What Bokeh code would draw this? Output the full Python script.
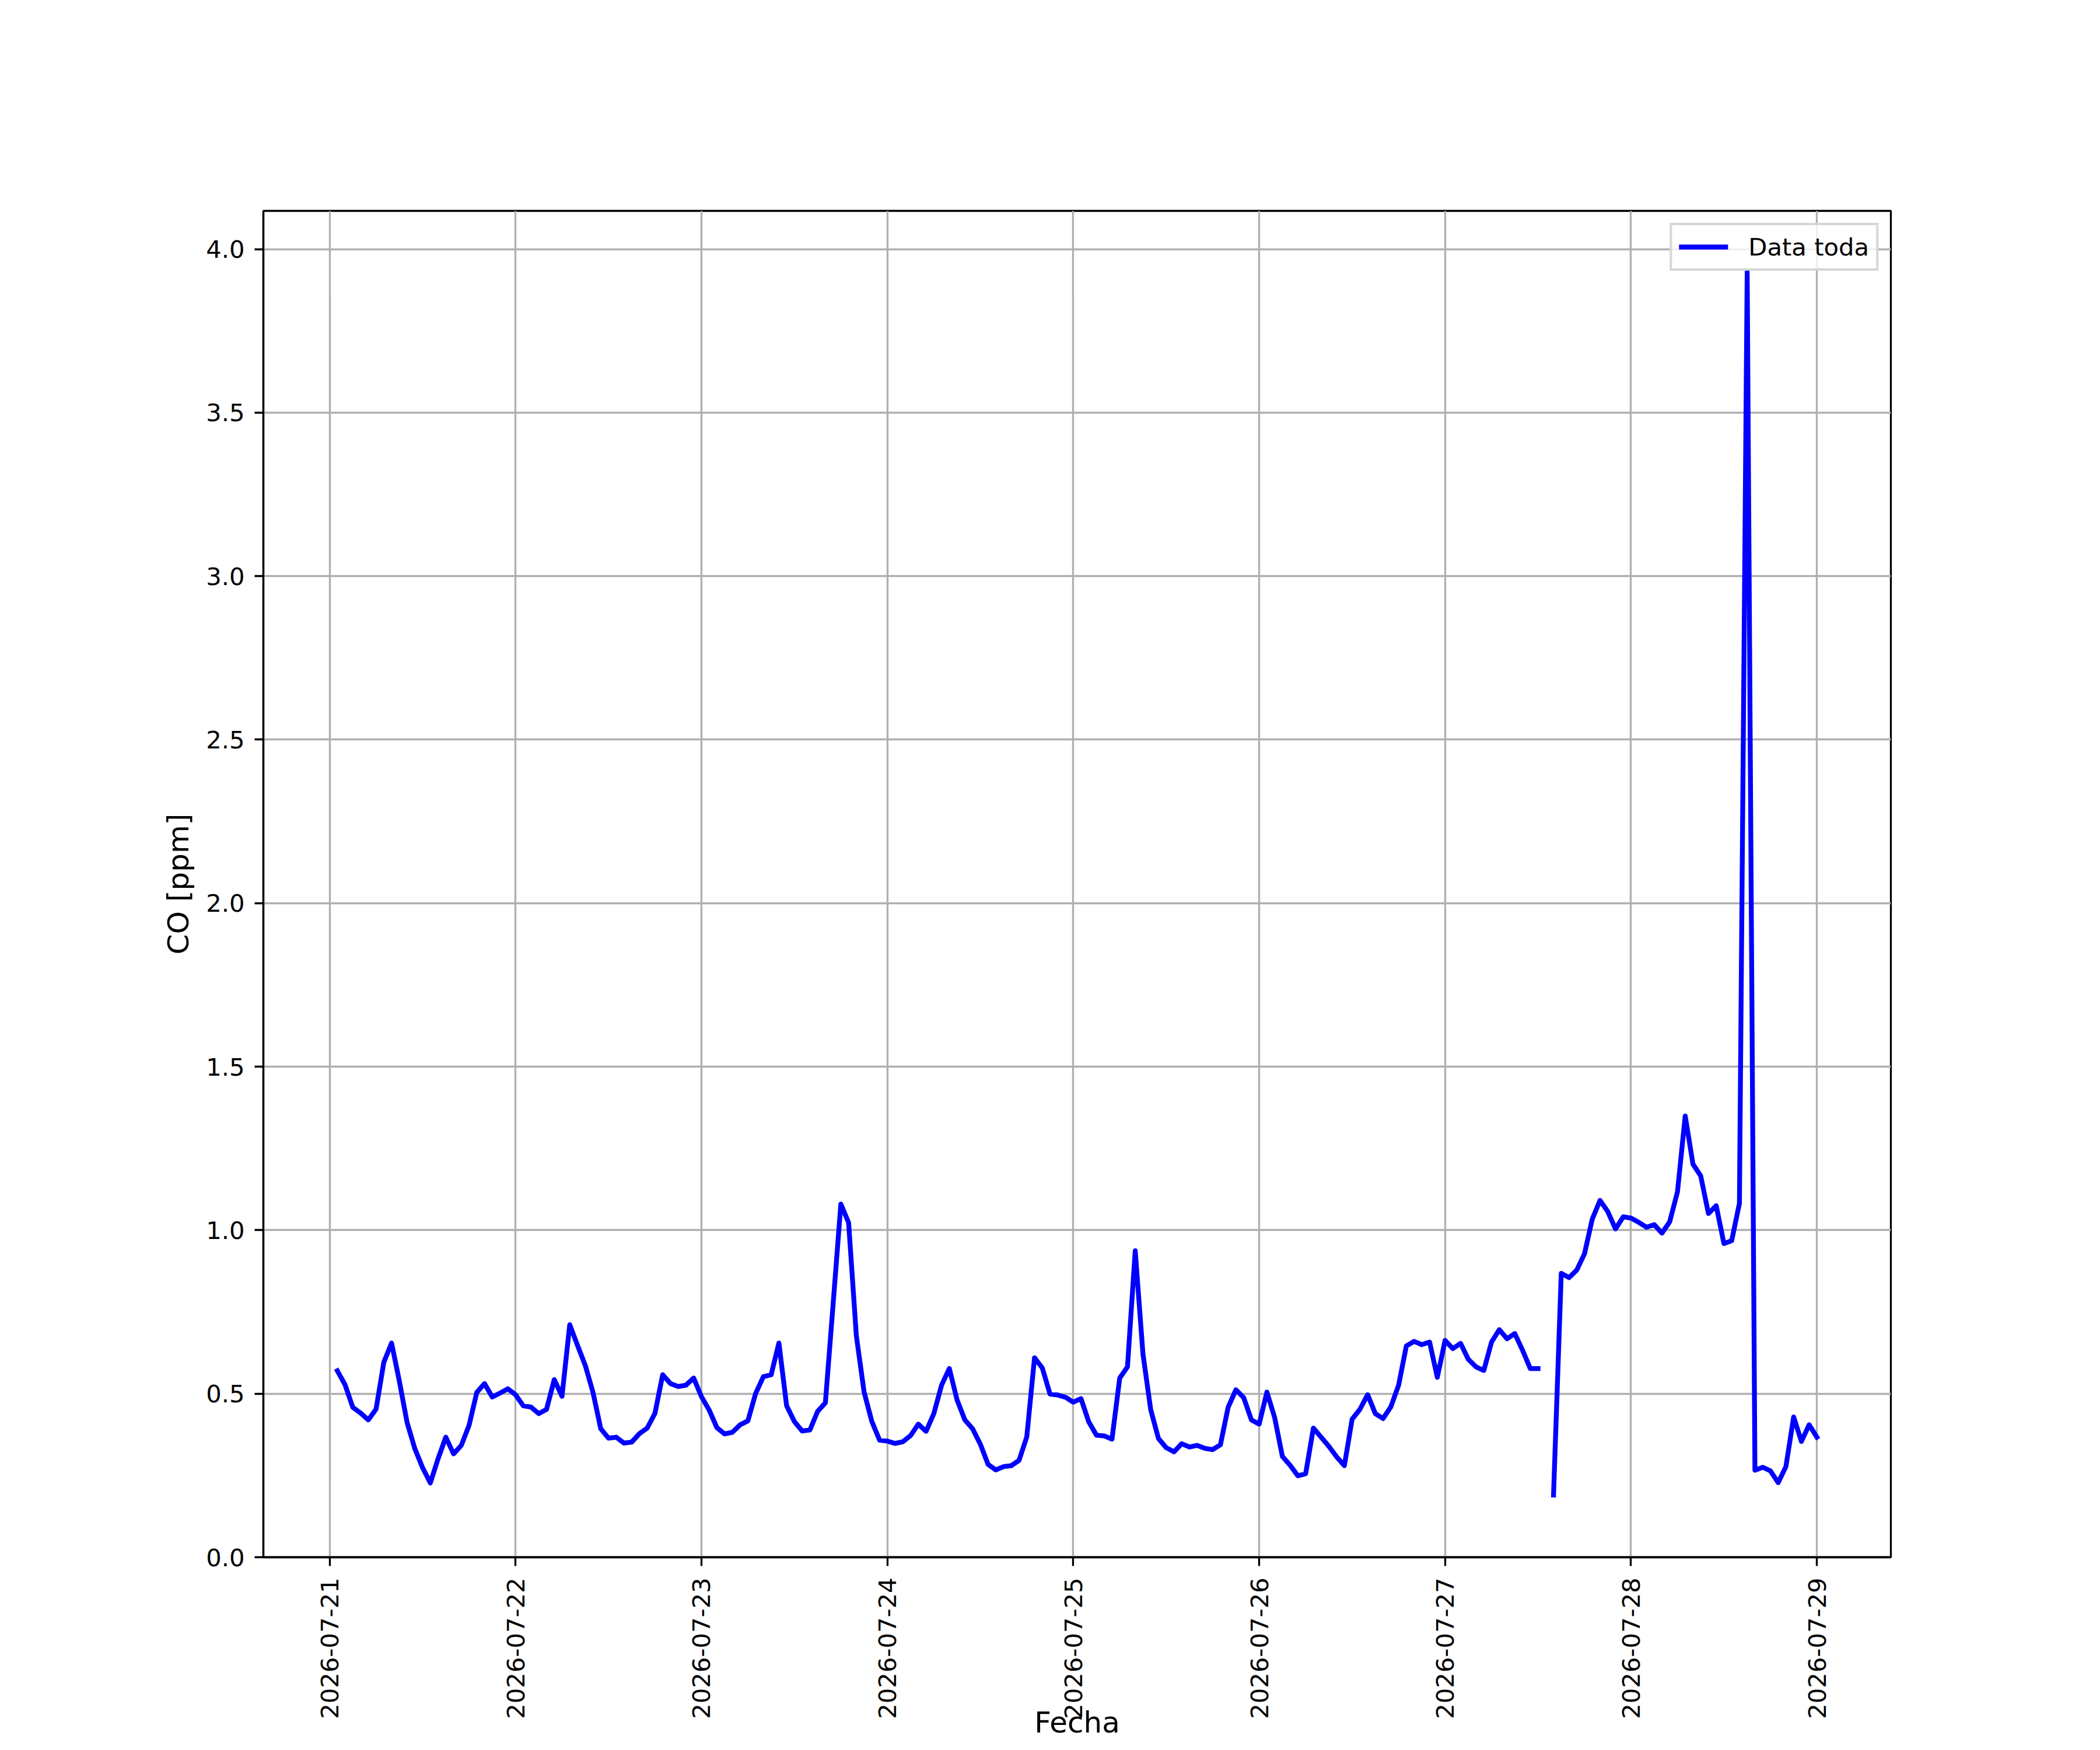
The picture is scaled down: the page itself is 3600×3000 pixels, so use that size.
import math
import numpy as np
import pandas as pd
from bokeh.plotting import figure
from bokeh.models import (Range1d, DaysTicker, DatetimeTickFormatter, FixedTicker,
                          PrintfTickFormatter)
from bokeh.embed import file_html
from bokeh.resources import INLINE

# ---------------- data (hourly CO readings, ppm) ----------------
start_time = "2026-07-21 01:00"

co_0721 = [0.570, 0.527, 0.458, 0.441, 0.420, 0.453, 0.596, 0.655, 0.539, 0.412, 0.332, 0.274,
           0.227, 0.301, 0.367, 0.316, 0.342, 0.403, 0.504, 0.531, 0.490, 0.502, 0.515]
co_0722 = [0.497, 0.463, 0.459, 0.439, 0.452, 0.543, 0.492, 0.711, 0.648, 0.587, 0.504, 0.393,
           0.364, 0.367, 0.349, 0.352, 0.378, 0.395, 0.440, 0.558, 0.531, 0.522, 0.526, 0.548]
co_0723 = [0.491, 0.450, 0.396, 0.377, 0.382, 0.405, 0.417, 0.501, 0.552, 0.558, 0.655, 0.463,
           0.415, 0.386, 0.389, 0.446, 0.472, 0.774, 1.080, 1.023, 0.677, 0.505, 0.415, 0.358]
co_0724 = [0.355, 0.348, 0.353, 0.372, 0.407, 0.385, 0.439, 0.526, 0.577, 0.481, 0.420, 0.393,
           0.346, 0.284, 0.267, 0.277, 0.280, 0.296, 0.368, 0.610, 0.579, 0.499, 0.496, 0.489]
co_0725 = [0.474, 0.485, 0.414, 0.373, 0.371, 0.361, 0.548, 0.582, 0.937, 0.621, 0.451, 0.363,
           0.335, 0.322, 0.347, 0.337, 0.342, 0.333, 0.329, 0.344, 0.459, 0.512, 0.488, 0.420]
co_0726 = [0.407, 0.505, 0.427, 0.308, 0.281, 0.249, 0.255, 0.395, 0.367, 0.339, 0.307, 0.280,
           0.422, 0.452, 0.497, 0.439, 0.424, 0.460, 0.526, 0.646, 0.660, 0.650, 0.658, 0.550]
co_0727 = [0.663, 0.638, 0.654, 0.605, 0.582, 0.571, 0.658, 0.696, 0.668, 0.684, 0.633, 0.577,
           0.577, float("nan"), 0.190, 0.868, 0.855, 0.878, 0.928, 1.034, 1.091, 1.057, 1.004, 1.041]
co_0728 = [1.037, 1.024, 1.009, 1.017, 0.991, 1.026, 1.117, 1.349, 1.202, 1.166, 1.051, 1.075,
           0.959, 0.968, 1.082, 3.930, 0.266, 0.275, 0.264, 0.228, 0.277, 0.429, 0.354, 0.405]
co_0729 = [0.367]

y_ticks = [0.0, 0.5, 1.0, 1.5, 2.0, 2.5, 3.0, 3.5, 4.0]
legend_text = "Data toda"
x_label = "Fecha"
y_label = "CO [ppm]"

co = np.array(co_0721 + co_0722 + co_0723 + co_0724 + co_0725 + co_0726 + co_0727
              + co_0728 + co_0729, dtype=float)
times = pd.date_range(start=start_time, periods=len(co), freq="h")

# ---------------- ranges (matplotlib-like 5% margins) ----------------
t0, t1 = times[0], times[-1]
span = t1 - t0
x_range = Range1d((t0 - 0.05 * span).to_pydatetime(), (t1 + 0.05 * span).to_pydatetime())
ymin, ymax = np.nanmin(co), np.nanmax(co)
y_range = Range1d(0.0, ymax + 0.05 * (ymax - ymin))

FONT = "DejaVu Sans"
TICK_FS = "41.7px"
LABEL_FS = "50px"

p = figure(width=3584, height=2984, x_axis_type="datetime",
           x_range=x_range, y_range=y_range,
           output_backend="svg", toolbar_location=None,
           min_border_left=451, min_border_right=343,
           min_border_top=361, min_border_bottom=314)

p.line(times, co, line_color="#0000ff", line_width=8.3, line_cap="square",
       line_join="round", legend_label=legend_text)

# axes
p.xaxis.ticker = DaysTicker(days=list(range(1, 32)))
p.xaxis.formatter = DatetimeTickFormatter(days="%Y-%m-%d", months="%Y-%m-%d",
                                          hours="%Y-%m-%d")
p.xaxis.major_label_orientation = math.pi / 2
p.yaxis.ticker = FixedTicker(ticks=y_ticks)
p.yaxis.formatter = PrintfTickFormatter(format="%.1f")

for ax in (p.xaxis, p.yaxis):
    ax.major_label_text_font = FONT
    ax.major_label_text_font_size = TICK_FS
    ax.major_label_text_color = "black"
    ax.axis_line_color = "black"
    ax.axis_line_width = 3.3
    ax.major_tick_line_color = "black"
    ax.major_tick_line_width = 3.3
    ax.major_tick_out = 15
    ax.major_tick_in = 0
    ax.minor_tick_line_color = None
    ax.axis_label_text_font = FONT
    ax.axis_label_text_font_size = LABEL_FS
    ax.axis_label_text_font_style = "normal"
    ax.axis_label_text_color = "black"
p.xaxis.major_label_standoff = 20
p.yaxis.major_label_standoff = 17

p.yaxis.axis_label = y_label
p.yaxis.axis_label_standoff = 15
p.xaxis.axis_label = x_label
p.xaxis.axis_label_standoff = -26

# grid
for g in (p.xgrid, p.ygrid):
    g.grid_line_color = "#b0b0b0"
    g.grid_line_width = 3.3

p.outline_line_color = "black"
p.outline_line_width = 3.3
p.background_fill_color = "white"
p.border_fill_color = "white"

# legend
lg = p.legend[0]
lg.location = "top_right"
lg.margin = 21
lg.padding = 12
lg.spacing = 0
lg.glyph_width = 84
lg.glyph_height = 50
lg.label_height = 50
lg.label_standoff = 35
lg.label_text_font = FONT
lg.label_text_font_size = TICK_FS
lg.label_text_color = "black"
lg.border_line_color = "#cccccc"
lg.border_line_alpha = 0.8
lg.border_line_width = 4.2
lg.background_fill_color = "white"
lg.background_fill_alpha = 0.8

open("out.html", "w").write(file_html(p, INLINE))
